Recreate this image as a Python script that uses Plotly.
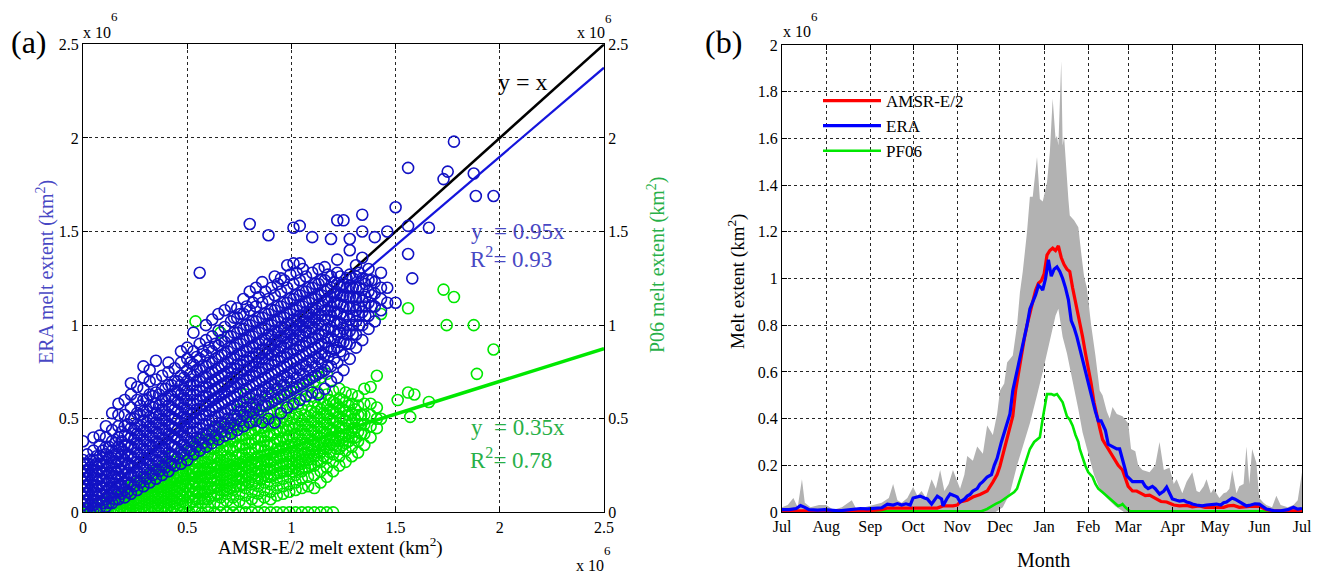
import plotly.graph_objects as go

FONT = "Liberation Serif"
W, H = 1327, 575
OFF = 8            # the page body margin that the browser adds around the figure
FW, FH = W - OFF, H - OFF

# ---------------- Panel (a) data (units of 10^6 km^2) ----------------
ERA_SLOPE = 0.95
PF06_SLOPE = 0.35
FIT_X = [0.0, 2.5]

# ERA vs AMSR-E/2 : (AMSR-E/2 value, [ERA values]) read column by column
era_columns = [
    (0.00, [0.00, 0.04, 0.08, 0.12, 0.16, 0.20, 0.24, 0.28, 0.38]),
    (0.02, [0.02, 0.06, 0.10, 0.14, 0.18, 0.22, 0.26, 0.31]),
    (0.05, [0.00, 0.04, 0.08, 0.12, 0.16, 0.20, 0.24, 0.28, 0.33, 0.40]),
    (0.08, [0.02, 0.06, 0.10, 0.14, 0.18, 0.22, 0.26, 0.30, 0.36, 0.41]),
    (0.11, [0.03, 0.07, 0.11, 0.15, 0.19, 0.23, 0.27, 0.31, 0.35, 0.40, 0.46]),
    (0.14, [0.05, 0.09, 0.13, 0.17, 0.21, 0.25, 0.29, 0.33, 0.38, 0.44, 0.53]),
    (0.17, [0.07, 0.11, 0.15, 0.19, 0.23, 0.27, 0.31, 0.35, 0.40, 0.46, 0.52, 0.58]),
    (0.20, [0.08, 0.12, 0.16, 0.20, 0.24, 0.28, 0.32, 0.36, 0.41, 0.46, 0.52, 0.60]),
    (0.23, [0.10, 0.15, 0.20, 0.25, 0.30, 0.35, 0.40, 0.45, 0.50, 0.56, 0.63, 0.69]),
    (0.26, [0.12, 0.17, 0.22, 0.27, 0.32, 0.37, 0.42, 0.47, 0.53, 0.60, 0.67]),
    (0.29, [0.14, 0.19, 0.24, 0.29, 0.34, 0.39, 0.44, 0.49, 0.54, 0.60, 0.66, 0.72, 0.78]),
    (0.32, [0.16, 0.21, 0.26, 0.31, 0.36, 0.41, 0.46, 0.51, 0.57, 0.63, 0.70, 0.76]),
    (0.35, [0.18, 0.23, 0.28, 0.33, 0.38, 0.43, 0.48, 0.53, 0.58, 0.64, 0.71, 0.81]),
    (0.38, [0.20, 0.25, 0.30, 0.35, 0.40, 0.45, 0.50, 0.55, 0.60, 0.66, 0.73]),
    (0.41, [0.22, 0.27, 0.32, 0.37, 0.42, 0.47, 0.52, 0.57, 0.62, 0.68, 0.75, 0.80]),
    (0.44, [0.25, 0.30, 0.35, 0.40, 0.45, 0.50, 0.55, 0.60, 0.65, 0.70, 0.77]),
    (0.47, [0.26, 0.32, 0.38, 0.43, 0.48, 0.53, 0.58, 0.63, 0.68, 0.73, 0.80, 0.86]),
    (0.50, [0.28, 0.34, 0.40, 0.45, 0.50, 0.55, 0.60, 0.65, 0.70, 0.76, 0.82, 0.88]),
    (0.53, [0.31, 0.37, 0.43, 0.48, 0.53, 0.58, 0.63, 0.68, 0.73, 0.79, 0.86, 0.96]),
    (0.56, [0.33, 0.39, 0.45, 0.50, 0.55, 0.60, 0.65, 0.70, 0.76, 0.82, 0.90, 1.28]),
    (0.59, [0.35, 0.41, 0.47, 0.52, 0.57, 0.62, 0.67, 0.72, 0.78, 0.84, 0.92, 1.00]),
    (0.62, [0.37, 0.43, 0.49, 0.55, 0.60, 0.65, 0.70, 0.75, 0.80, 0.86, 0.94, 1.03]),
    (0.65, [0.39, 0.45, 0.51, 0.57, 0.62, 0.67, 0.72, 0.77, 0.83, 0.89, 0.97, 1.06]),
    (0.68, [0.41, 0.47, 0.53, 0.59, 0.64, 0.69, 0.74, 0.79, 0.85, 0.91, 0.99, 1.08]),
    (0.71, [0.42, 0.48, 0.55, 0.61, 0.67, 0.72, 0.77, 0.82, 0.88, 0.94, 1.02, 1.10]),
    (0.74, [0.44, 0.50, 0.57, 0.63, 0.69, 0.74, 0.79, 0.84, 0.90, 0.96, 1.04, 1.09]),
    (0.77, [0.46, 0.52, 0.59, 0.65, 0.71, 0.76, 0.81, 0.86, 0.92, 0.98, 1.06, 1.14]),
    (0.80, [0.48, 0.54, 0.61, 0.67, 0.73, 0.78, 0.83, 0.88, 0.94, 1.00, 1.08, 1.18, 1.54]),
    (0.83, [0.49, 0.56, 0.63, 0.69, 0.75, 0.80, 0.85, 0.90, 0.96, 1.02, 1.10, 1.20]),
    (0.86, [0.48, 0.57, 0.64, 0.71, 0.77, 0.82, 0.87, 0.92, 0.98, 1.04, 1.12, 1.23]),
    (0.89, [0.50, 0.58, 0.66, 0.73, 0.79, 0.85, 0.90, 0.95, 1.00, 1.06, 1.14, 1.48]),
    (0.92, [0.48, 0.60, 0.68, 0.75, 0.81, 0.87, 0.92, 0.97, 1.02, 1.08, 1.16, 1.26]),
    (0.95, [0.53, 0.62, 0.70, 0.77, 0.83, 0.89, 0.94, 0.99, 1.04, 1.10, 1.18, 1.25]),
    (0.98, [0.56, 0.64, 0.72, 0.79, 0.85, 0.91, 0.96, 1.01, 1.06, 1.12, 1.20, 1.32]),
    (1.01, [0.58, 0.66, 0.74, 0.81, 0.87, 0.93, 0.98, 1.03, 1.08, 1.14, 1.22, 1.33, 1.52]),
    (1.04, [0.60, 0.68, 0.76, 0.83, 0.89, 0.95, 1.00, 1.05, 1.10, 1.16, 1.24, 1.33, 1.53]),
    (1.07, [0.62, 0.70, 0.78, 0.85, 0.91, 0.97, 1.02, 1.07, 1.12, 1.18, 1.26]),
    (1.10, [0.64, 0.72, 0.80, 0.87, 0.93, 0.99, 1.04, 1.09, 1.14, 1.20, 1.28, 1.47]),
    (1.13, [0.63, 0.74, 0.82, 0.89, 0.95, 1.01, 1.06, 1.11, 1.16, 1.22, 1.30]),
    (1.16, [0.66, 0.76, 0.84, 0.91, 0.97, 1.03, 1.08, 1.13, 1.18, 1.24, 1.31]),
    (1.19, [0.70, 0.78, 0.86, 0.93, 0.99, 1.05, 1.10, 1.15, 1.20, 1.26, 1.46]),
    (1.22, [0.72, 0.80, 0.88, 0.95, 1.01, 1.07, 1.12, 1.17, 1.22, 1.28, 1.35, 1.56]),
    (1.25, [0.76, 0.84, 0.91, 0.98, 1.04, 1.10, 1.16, 1.22, 1.56]),
    (1.28, [0.82, 0.90, 0.97, 1.03, 1.09, 1.15, 1.21, 1.27, 1.40, 1.46]),
    (1.31, [0.88, 0.95, 1.02, 1.08, 1.14, 1.20, 1.26, 1.32]),
    (1.34, [0.92, 1.00, 1.07, 1.13, 1.19, 1.25, 1.36, 1.50, 1.59]),
    (1.37, [0.98, 1.05, 1.12, 1.18, 1.24, 1.30]),
    (1.40, [1.02, 1.10, 1.17, 1.23, 1.47]),
    (1.43, [1.08, 1.14, 1.20, 1.28]),
    (1.46, [1.12, 1.20, 1.50]),
    (1.50, [1.12, 1.63]),
    (1.56, [1.38, 1.53, 1.84]),
    (1.58, [1.25]),
    (1.66, [1.52]),
    (1.73, [1.78]),
    (1.75, [1.82]),
    (1.78, [1.98]),
    (1.875, [1.81]),
    (1.885, [1.69]),
    (1.97, [1.69]),
]

# the densest part of the ERA cloud, read between the columns above
era_dense_columns = [
    (0.01, [0.02, 0.06, 0.10, 0.14, 0.18, 0.22, 0.26]),
    (0.035, [0.00, 0.04, 0.08, 0.12, 0.16, 0.20, 0.24, 0.28]),
    (0.065, [0.02, 0.06, 0.10, 0.14, 0.18, 0.22, 0.26, 0.30]),
    (0.095, [0.05, 0.09, 0.13, 0.17, 0.21, 0.25, 0.29, 0.33]),
    (0.125, [0.05, 0.09, 0.13, 0.17, 0.21, 0.25, 0.29, 0.35]),
    (0.155, [0.07, 0.11, 0.15, 0.19, 0.23, 0.27, 0.31, 0.37]),
    (0.185, [0.10, 0.14, 0.18, 0.22, 0.26, 0.30, 0.34, 0.38, 0.43]),
    (0.215, [0.11, 0.16, 0.21, 0.26, 0.31, 0.36, 0.41, 0.47]),
    (0.245, [0.14, 0.19, 0.24, 0.29, 0.34, 0.39, 0.44, 0.50]),
    (0.275, [0.16, 0.21, 0.26, 0.31, 0.36, 0.41, 0.46, 0.52, 0.57]),
    (0.305, [0.18, 0.23, 0.28, 0.33, 0.38, 0.43, 0.48, 0.54, 0.60]),
    (0.335, [0.20, 0.25, 0.30, 0.35, 0.40, 0.45, 0.50, 0.56, 0.62]),
    (0.365, [0.22, 0.27, 0.32, 0.37, 0.42, 0.47, 0.52, 0.57, 0.63]),
    (0.395, [0.24, 0.29, 0.34, 0.39, 0.44, 0.49, 0.54, 0.60, 0.66]),
    (0.425, [0.26, 0.31, 0.36, 0.41, 0.46, 0.51, 0.56, 0.62, 0.68]),
    (0.455, [0.29, 0.34, 0.39, 0.44, 0.49, 0.54, 0.59, 0.64, 0.70]),
    (0.485, [0.31, 0.36, 0.41, 0.46, 0.51, 0.56, 0.61, 0.66, 0.72]),
    (0.515, [0.33, 0.38, 0.43, 0.48, 0.53, 0.58, 0.63, 0.68, 0.74, 0.80]),
    (0.545, [0.35, 0.40, 0.45, 0.50, 0.55, 0.60, 0.65, 0.70, 0.76, 0.83]),
    (0.575, [0.37, 0.42, 0.47, 0.52, 0.57, 0.62, 0.67, 0.72, 0.78, 0.86]),
    (0.605, [0.39, 0.44, 0.49, 0.54, 0.59, 0.64, 0.69, 0.74, 0.80, 0.88]),
    (0.635, [0.41, 0.46, 0.51, 0.56, 0.61, 0.66, 0.71, 0.76, 0.82, 0.90]),
    (0.665, [0.43, 0.48, 0.53, 0.58, 0.63, 0.68, 0.73, 0.78, 0.84, 0.92]),
    (0.695, [0.45, 0.50, 0.55, 0.60, 0.65, 0.70, 0.75, 0.80, 0.86, 0.94]),
    (0.725, [0.47, 0.52, 0.57, 0.62, 0.67, 0.72, 0.77, 0.82, 0.88, 0.96, 1.04]),
    (0.755, [0.49, 0.54, 0.59, 0.64, 0.69, 0.74, 0.79, 0.84, 0.90, 0.98, 1.06]),
    (0.785, [0.51, 0.56, 0.61, 0.66, 0.71, 0.76, 0.81, 0.86, 0.92, 1.00, 1.10]),
    (0.815, [0.53, 0.58, 0.63, 0.68, 0.73, 0.78, 0.83, 0.88, 0.94, 1.02, 1.12]),
    (0.845, [0.55, 0.60, 0.65, 0.70, 0.75, 0.80, 0.85, 0.90, 0.96, 1.04, 1.15]),
    (0.875, [0.57, 0.62, 0.67, 0.72, 0.77, 0.82, 0.87, 0.92, 0.98, 1.06, 1.18]),
    (0.905, [0.59, 0.64, 0.69, 0.74, 0.79, 0.84, 0.89, 0.94, 1.00, 1.08, 1.20]),
    (0.935, [0.61, 0.66, 0.71, 0.76, 0.81, 0.86, 0.91, 0.96, 1.02, 1.10, 1.22]),
    (0.965, [0.63, 0.68, 0.73, 0.78, 0.83, 0.88, 0.93, 0.98, 1.04, 1.12, 1.24]),
    (0.995, [0.65, 0.70, 0.75, 0.80, 0.85, 0.90, 0.95, 1.00, 1.06, 1.14, 1.27]),
    (1.025, [0.67, 0.72, 0.77, 0.82, 0.87, 0.92, 0.97, 1.02, 1.08, 1.16, 1.28]),
    (1.055, [0.69, 0.74, 0.79, 0.84, 0.89, 0.94, 0.99, 1.04, 1.10, 1.18, 1.30]),
    (1.085, [0.71, 0.76, 0.81, 0.86, 0.91, 0.96, 1.01, 1.06, 1.12, 1.20]),
    (1.115, [0.73, 0.78, 0.83, 0.88, 0.93, 0.98, 1.03, 1.08, 1.14, 1.22]),
    (1.145, [0.75, 0.80, 0.85, 0.90, 0.95, 1.00, 1.05, 1.10, 1.16, 1.24]),
    (1.175, [0.78, 0.83, 0.88, 0.93, 0.98, 1.03, 1.08, 1.13, 1.19, 1.27]),
    (1.205, [0.82, 0.87, 0.92, 0.97, 1.02, 1.07, 1.12, 1.17, 1.23]),
    (1.235, [0.86, 0.91, 0.96, 1.01, 1.06, 1.11, 1.16, 1.21, 1.26]),
    (1.265, [0.90, 0.95, 1.00, 1.05, 1.10, 1.15, 1.20, 1.25]),
    (1.295, [0.95, 1.00, 1.05, 1.10, 1.15, 1.20, 1.25]),
    (1.325, [1.00, 1.05, 1.10, 1.15, 1.20, 1.28]),
    (1.355, [1.05, 1.10, 1.15, 1.22]),
    (1.385, [1.10, 1.16, 1.24]),
]

# PF06 vs AMSR-E/2 : (AMSR-E/2 value, [PF06 values])
pf06_columns = [
    (0.03, [0.00, 0.02]),
    (0.06, [0.00, 0.03]),
    (0.09, [0.00, 0.02, 0.05]),
    (0.12, [0.00, 0.03, 0.06]),
    (0.15, [0.00, 0.02, 0.05, 0.08]),
    (0.18, [0.00, 0.03, 0.06, 0.09]),
    (0.21, [0.00, 0.02, 0.05, 0.08, 0.11]),
    (0.24, [0.00, 0.03, 0.06, 0.09, 0.12, 0.15]),
    (0.27, [0.00, 0.02, 0.05, 0.08, 0.11, 0.14, 0.17]),
    (0.30, [0.01, 0.04, 0.07, 0.10, 0.13, 0.16, 0.19]),
    (0.33, [0.00, 0.03, 0.06, 0.09, 0.12, 0.15, 0.18, 0.22]),
    (0.36, [0.01, 0.04, 0.07, 0.10, 0.13, 0.16, 0.19, 0.23, 0.27]),
    (0.39, [0.00, 0.03, 0.06, 0.09, 0.12, 0.15, 0.18, 0.21, 0.25]),
    (0.42, [0.00, 0.04, 0.07, 0.10, 0.13, 0.16, 0.19, 0.22, 0.26, 0.30]),
    (0.45, [0.02, 0.05, 0.08, 0.11, 0.14, 0.17, 0.21, 0.25, 0.29]),
    (0.48, [0.00, 0.03, 0.06, 0.09, 0.12, 0.15, 0.18, 0.22, 0.26, 0.31, 0.36]),
    (0.51, [0.00, 0.04, 0.08, 0.12, 0.16, 0.20, 0.24, 0.28, 0.33]),
    (0.54, [0.00, 0.03, 0.07, 0.11, 0.15, 0.19, 0.23, 0.27, 0.31, 0.36, 1.02]),
    (0.57, [0.00, 0.05, 0.09, 0.13, 0.17, 0.21, 0.25, 0.29, 0.34, 0.39]),
    (0.60, [0.00, 0.03, 0.07, 0.11, 0.15, 0.19, 0.23, 0.27, 0.31, 0.36, 0.42]),
    (0.63, [0.00, 0.05, 0.09, 0.13, 0.17, 0.21, 0.25, 0.29, 0.34, 0.39, 0.45]),
    (0.66, [0.00, 0.04, 0.08, 0.12, 0.16, 0.20, 0.24, 0.28, 0.32, 0.37, 0.42, 0.96]),
    (0.69, [0.00, 0.06, 0.10, 0.14, 0.18, 0.22, 0.26, 0.30, 0.35, 0.40, 0.46]),
    (0.72, [0.00, 0.04, 0.08, 0.12, 0.16, 0.20, 0.24, 0.28, 0.33, 0.38, 0.44, 0.50]),
    (0.75, [0.00, 0.06, 0.10, 0.14, 0.18, 0.22, 0.26, 0.31, 0.36, 0.41, 0.47, 0.55]),
    (0.78, [0.00, 0.05, 0.09, 0.13, 0.17, 0.21, 0.25, 0.29, 0.34, 0.39, 0.45, 0.52, 0.63]),
    (0.81, [0.00, 0.07, 0.11, 0.15, 0.19, 0.23, 0.27, 0.32, 0.37, 0.42, 0.48, 0.56]),
    (0.84, [0.00, 0.06, 0.10, 0.14, 0.18, 0.22, 0.26, 0.30, 0.35, 0.40, 0.46, 0.53, 0.60]),
    (0.87, [0.00, 0.08, 0.12, 0.16, 0.20, 0.24, 0.28, 0.33, 0.38, 0.43, 0.49, 0.57]),
    (0.90, [0.00, 0.07, 0.11, 0.15, 0.19, 0.23, 0.27, 0.31, 0.36, 0.41, 0.47, 0.54, 0.62]),
    (0.93, [0.00, 0.09, 0.13, 0.17, 0.21, 0.25, 0.29, 0.34, 0.39, 0.44, 0.50, 0.58, 0.66]),
    (0.96, [0.00, 0.10, 0.14, 0.18, 0.22, 0.26, 0.30, 0.35, 0.40, 0.45, 0.51, 0.60, 0.68]),
    (0.99, [0.00, 0.11, 0.15, 0.19, 0.23, 0.27, 0.31, 0.36, 0.41, 0.46, 0.52, 0.62]),
    (1.02, [0.00, 0.12, 0.16, 0.20, 0.24, 0.28, 0.32, 0.37, 0.42, 0.47, 0.53, 0.64]),
    (1.05, [0.00, 0.13, 0.18, 0.22, 0.26, 0.30, 0.34, 0.39, 0.44, 0.49, 0.55, 0.66]),
    (1.08, [0.00, 0.14, 0.19, 0.24, 0.28, 0.32, 0.36, 0.41, 0.46, 0.51, 0.57, 0.68]),
    (1.11, [0.00, 0.13, 0.20, 0.25, 0.30, 0.34, 0.38, 0.43, 0.48, 0.53, 0.59, 0.70]),
    (1.14, [0.00, 0.16, 0.22, 0.27, 0.32, 0.36, 0.40, 0.45, 0.50, 0.55, 0.61, 0.72]),
    (1.17, [0.00, 0.19, 0.24, 0.29, 0.34, 0.38, 0.42, 0.47, 0.52, 0.57, 0.63, 0.74]),
    (1.20, [0.00, 0.22, 0.27, 0.31, 0.36, 0.40, 0.44, 0.49, 0.54, 0.59, 0.65]),
    (1.23, [0.25, 0.30, 0.34, 0.38, 0.42, 0.46, 0.51, 0.56, 0.61, 0.66]),
    (1.26, [0.27, 0.33, 0.37, 0.41, 0.45, 0.49, 0.54, 0.59, 0.64]),
    (1.29, [0.30, 0.35, 0.40, 0.44, 0.48, 0.53, 0.58, 0.63]),
    (1.32, [0.32, 0.38, 0.43, 0.47, 0.52, 0.57, 0.62]),
    (1.35, [0.36, 0.42, 0.47, 0.52, 0.58, 0.66]),
    (1.38, [0.40, 0.46, 0.52, 0.58, 0.67]),
    (1.41, [0.45, 0.50, 0.56, 0.73]),
    (1.43, [0.50, 1.06]),
    (1.51, [0.60]),
    (1.56, [0.64, 1.09]),
    (1.57, [0.51]),
    (1.59, [0.63]),
    (1.66, [0.59]),
    (1.73, [1.19]),
    (1.745, [1.00]),
    (1.78, [1.15]),
    (1.875, [1.00]),
    (1.89, [0.74]),
    (1.97, [0.87]),
]

# densest part of the PF06 cloud
pf06_dense_columns = [
    (0.165, [0.01, 0.04, 0.07]),
    (0.195, [0.01, 0.04, 0.07, 0.10]),
    (0.225, [0.01, 0.04, 0.07, 0.10, 0.13]),
    (0.255, [0.01, 0.04, 0.07, 0.10, 0.13]),
    (0.285, [0.03, 0.06, 0.09, 0.12, 0.15]),
    (0.315, [0.02, 0.05, 0.08, 0.11, 0.14, 0.17]),
    (0.345, [0.02, 0.05, 0.08, 0.11, 0.14, 0.17, 0.20]),
    (0.375, [0.02, 0.05, 0.08, 0.11, 0.14, 0.17, 0.21]),
    (0.405, [0.02, 0.05, 0.08, 0.11, 0.14, 0.17, 0.20, 0.23]),
    (0.435, [0.03, 0.06, 0.09, 0.12, 0.15, 0.19, 0.23, 0.27]),
    (0.465, [0.04, 0.07, 0.10, 0.13, 0.16, 0.20, 0.24, 0.28]),
    (0.495, [0.05, 0.10, 0.14, 0.18, 0.22, 0.26, 0.30]),
    (0.525, [0.06, 0.10, 0.14, 0.18, 0.22, 0.26, 0.30, 0.34]),
    (0.555, [0.07, 0.11, 0.15, 0.19, 0.23, 0.27, 0.32, 0.37]),
    (0.585, [0.07, 0.11, 0.15, 0.19, 0.23, 0.27, 0.32, 0.37]),
    (0.615, [0.09, 0.13, 0.17, 0.21, 0.25, 0.29, 0.34, 0.39]),
    (0.645, [0.10, 0.14, 0.18, 0.22, 0.26, 0.30, 0.35, 0.40]),
    (0.675, [0.12, 0.16, 0.20, 0.24, 0.28, 0.33, 0.38, 0.43]),
    (0.705, [0.13, 0.17, 0.21, 0.25, 0.29, 0.34, 0.39, 0.45]),
    (0.735, [0.14, 0.18, 0.22, 0.26, 0.30, 0.35, 0.40, 0.46]),
    (0.765, [0.15, 0.19, 0.23, 0.27, 0.31, 0.36, 0.41, 0.48]),
    (0.795, [0.16, 0.20, 0.24, 0.28, 0.32, 0.37, 0.42, 0.49]),
    (0.825, [0.17, 0.21, 0.25, 0.29, 0.34, 0.39, 0.44, 0.51]),
    (0.855, [0.18, 0.22, 0.26, 0.30, 0.35, 0.40, 0.45, 0.52]),
    (0.885, [0.19, 0.23, 0.27, 0.31, 0.36, 0.41, 0.46, 0.53]),
    (0.915, [0.20, 0.24, 0.28, 0.32, 0.37, 0.42, 0.47, 0.54]),
    (0.945, [0.21, 0.25, 0.29, 0.33, 0.38, 0.43, 0.48, 0.55]),
    (0.975, [0.22, 0.26, 0.30, 0.34, 0.39, 0.44, 0.49, 0.56]),
    (1.005, [0.22, 0.26, 0.30, 0.35, 0.40, 0.45, 0.50, 0.57]),
    (1.035, [0.23, 0.27, 0.31, 0.36, 0.41, 0.46, 0.51, 0.58]),
    (1.065, [0.24, 0.28, 0.32, 0.37, 0.42, 0.47, 0.52, 0.60]),
    (1.095, [0.26, 0.30, 0.34, 0.39, 0.44, 0.49, 0.54, 0.62]),
    (1.125, [0.28, 0.32, 0.36, 0.41, 0.46, 0.51, 0.56, 0.64]),
    (1.155, [0.30, 0.34, 0.38, 0.43, 0.48, 0.53, 0.58]),
    (1.185, [0.32, 0.36, 0.40, 0.45, 0.50, 0.55, 0.60]),
    (1.215, [0.34, 0.38, 0.43, 0.48, 0.53, 0.58]),
    (1.245, [0.36, 0.40, 0.45, 0.50, 0.55, 0.60]),
    (1.275, [0.38, 0.42, 0.47, 0.52, 0.57]),
    (1.305, [0.40, 0.45, 0.50, 0.55]),
    (1.335, [0.42, 0.47, 0.52]),
]

# ---------------- Panel (b) data: day index from 1 July ----------------
month_days = [0, 31, 62, 92, 123, 153, 184, 215, 243, 274, 304, 335, 365]
month_labels = ["Jul", "Aug", "Sep", "Oct", "Nov", "Dec", "Jan",
                "Feb", "Mar", "Apr", "May", "Jun", "Jul"]

amsr_days = [0, 30, 60, 70, 74, 90, 109, 113, 120, 123, 125, 130, 134, 139, 144, 148, 151,
             153, 156, 159, 162, 164, 166, 168, 170, 172, 174, 176, 178, 180, 182, 184,
             186, 188, 190, 192, 194, 196, 198, 200, 202, 204, 206, 209, 211, 213, 215,
             217, 219, 221, 223, 225, 228, 230, 233, 236, 239, 241, 243, 246, 249, 252,
             255, 258, 262, 266, 270, 275, 279, 284, 288, 293, 297, 300, 305, 310, 313,
             317, 321, 325, 330, 335, 338, 340, 345, 365]
amsr_vals = [0.005, 0.005, 0.005, 0.01, 0.017, 0.017, 0.017, 0.026, 0.026, 0.03, 0.043,
             0.05, 0.064, 0.075, 0.09, 0.128, 0.16, 0.197, 0.27, 0.34, 0.41, 0.52, 0.6,
             0.68, 0.74, 0.8, 0.85, 0.9, 0.95, 0.98, 0.99, 1.02, 1.1, 1.12, 1.13, 1.12,
             1.14, 1.09, 1.06, 1.04, 1.03, 0.96, 0.9, 0.82, 0.75, 0.68, 0.62, 0.55, 0.47,
             0.41, 0.36, 0.31, 0.28, 0.26, 0.23, 0.2, 0.18, 0.14, 0.11, 0.09, 0.09, 0.08,
             0.07, 0.072, 0.06, 0.045, 0.043, 0.03, 0.026, 0.028, 0.022, 0.026, 0.02, 0.02,
             0.022, 0.02, 0.026, 0.028, 0.02, 0.022, 0.025, 0.024, 0.015, 0.01, 0.005, 0.005]

era_days = [0, 5, 10, 13, 16, 19, 25, 30, 40, 50, 55, 60, 66, 70, 74, 78, 81, 84, 87, 90,
            92, 95, 97, 100, 102, 105, 107, 109, 112, 113, 116, 118, 121, 123, 125, 128,
            130, 132, 134, 137, 139, 141, 144, 147, 149, 151, 154, 158, 160, 162, 165,
            167, 170, 172, 174, 176, 178, 180, 182, 183, 185, 187, 189, 191, 193, 195,
            197, 199, 201, 203, 205, 207, 209, 211, 214, 216, 218, 220, 222, 224, 227,
            229, 232, 235, 237, 239, 241, 242, 244, 246, 250, 253, 255, 257, 260, 262,
            265, 268, 270, 272, 274, 277, 279, 282, 284, 286, 288, 291, 295, 298, 302,
            305, 308, 310, 312, 314, 316, 318, 321, 324, 326, 329, 332, 335, 337, 340,
            345, 350, 355, 359, 362, 365]
era_vals = [0.01, 0.01, 0.015, 0.028, 0.02, 0.01, 0.008, 0.01, 0.005, 0.012, 0.015, 0.013,
            0.015, 0.018, 0.034, 0.03, 0.036, 0.03, 0.035, 0.03, 0.06, 0.065, 0.068, 0.06,
            0.056, 0.034, 0.05, 0.068, 0.056, 0.026, 0.06, 0.077, 0.07, 0.064, 0.043,
            0.055, 0.068, 0.075, 0.09, 0.1, 0.12, 0.13, 0.15, 0.16, 0.2, 0.23, 0.3, 0.38,
            0.42, 0.52, 0.6, 0.655, 0.74, 0.8, 0.87, 0.9, 0.93, 0.97, 0.96, 0.95, 1.0,
            1.08, 1.01, 1.04, 1.05, 1.03, 1.0, 0.96, 0.91, 0.82, 0.79, 0.75, 0.7, 0.655,
            0.58, 0.53, 0.48, 0.43, 0.39, 0.39, 0.35, 0.29, 0.28, 0.27, 0.27, 0.23, 0.18,
            0.155, 0.14, 0.13, 0.13, 0.13, 0.11, 0.1, 0.11, 0.1, 0.077, 0.09, 0.107, 0.08,
            0.056, 0.05, 0.047, 0.05, 0.043, 0.04, 0.034, 0.03, 0.026, 0.03, 0.032, 0.034,
            0.03, 0.04, 0.043, 0.05, 0.06, 0.055, 0.043, 0.03, 0.026, 0.03, 0.035, 0.034,
            0.025, 0.013, 0.006, 0.005, 0.01, 0.02, 0.012, 0.015]

pf06_days = [0, 140, 144, 147, 150, 153, 156, 160, 163, 165, 167, 169, 171, 174, 177, 179,
             181, 183, 185, 186, 189, 191, 193, 195, 197, 199, 200, 202, 204, 206, 208,
             209, 211, 213, 215, 218, 220, 222, 225, 228, 231, 234, 236, 238, 239, 241,
             244, 365]
pf06_vals = [0.003, 0.003, 0.013, 0.025, 0.035, 0.043, 0.055, 0.07, 0.085, 0.1, 0.14, 0.18,
             0.21, 0.27, 0.3, 0.31, 0.32, 0.4, 0.48, 0.505, 0.505, 0.5, 0.505, 0.49, 0.47,
             0.43, 0.41, 0.395, 0.37, 0.33, 0.3, 0.27, 0.23, 0.197, 0.17, 0.15, 0.12, 0.1,
             0.085, 0.07, 0.055, 0.04, 0.026, 0.03, 0.034, 0.02, 0.004, 0.003]

# grey envelope (range of the individual estimates)
env_up_days = [0, 4, 8, 11, 14, 16, 20, 26, 31, 36, 42, 49, 52, 58, 64, 70, 75, 78, 81, 84,
               88, 92, 95, 98, 101, 105, 108, 111, 114, 117, 120, 123, 125, 128, 130, 134,
               137, 141, 144, 148, 151, 153, 156, 158, 162, 165, 167, 169, 172, 174, 176,
               179, 181, 183, 186, 188, 190, 192, 193, 194, 196, 197, 198, 201, 202, 205,
               208, 210, 212, 214, 217, 220, 223, 225, 228, 230, 232, 235, 239, 243, 245,
               248, 250, 253, 258, 262, 265, 268, 272, 275, 277, 281, 284, 288, 291, 293,
               296, 298, 301, 303, 307, 310, 312, 314, 316, 319, 321, 324, 326, 328, 330,
               333, 335, 338, 340, 344, 347, 350, 355, 359, 362, 365]
env_up_vals = [0.02, 0.03, 0.06, 0.02, 0.14, 0.04, 0.02, 0.03, 0.03, 0.01, 0.02, 0.05, 0.015,
               0.02, 0.03, 0.04, 0.06, 0.12, 0.05, 0.04, 0.06, 0.107, 0.07, 0.09, 0.06, 0.14,
               0.1, 0.18, 0.09, 0.12, 0.18, 0.13, 0.1, 0.16, 0.24, 0.22, 0.28, 0.25, 0.37,
               0.33, 0.42, 0.52, 0.55, 0.64, 0.67, 0.8, 0.94, 1.03, 1.2, 1.35, 1.35, 1.52,
               1.34, 1.33, 1.41, 1.54, 1.77, 1.6, 1.61, 1.57, 1.93, 1.57, 1.61, 1.34, 1.27,
               1.25, 1.22, 1.11, 1.01, 0.96, 0.8, 0.67, 0.52, 0.5, 0.43, 0.4, 0.45, 0.42,
               0.41, 0.38, 0.27, 0.26, 0.2, 0.18, 0.17, 0.2, 0.3, 0.18, 0.19, 0.12, 0.14,
               0.08, 0.13, 0.17, 0.09, 0.085, 0.11, 0.14, 0.08, 0.1, 0.06, 0.08, 0.085, 0.1,
               0.18, 0.08, 0.11, 0.12, 0.28, 0.12, 0.27, 0.21, 0.06, 0.04, 0.03, 0.02, 0.07,
               0.03, 0.02, 0.03, 0.05, 0.17]
env_lo_days = [0, 150, 155, 160, 165, 170, 174, 179, 183, 186, 189, 192, 194, 197, 200, 204,
               208, 211, 215, 219, 223, 228, 234, 240, 365]
env_lo_vals = [0.0, 0.0, 0.02, 0.08, 0.2, 0.3, 0.38, 0.5, 0.6, 0.67, 0.76, 0.84, 0.87, 0.75,
               0.68, 0.56, 0.44, 0.34, 0.25, 0.16, 0.1, 0.06, 0.025, 0.0, 0.0]

# ---------------- styling ----------------
ERA_BLUE = "rgb(18,18,196)"
PF_GREEN = "rgb(0,232,0)"
TXT_BLUE = "rgb(72,72,196)"
TXT_GREEN = "rgb(40,176,72)"
GRID = dict(showgrid=True, gridcolor="rgba(0,0,0,0.85)", griddash="dot", gridwidth=1)
TICKF = dict(family=FONT, size=16, color="black")


def px_x(p):
    """screen pixel column -> paper fraction"""
    return (p - OFF) / FW


def px_y(p):
    """screen pixel row -> paper fraction"""
    return 1 - (p - OFF) / FH


def flatten(*column_sets):
    xs, ys = [], []
    for cols in column_sets:
        for c, vals in cols:
            for v in vals:
                xs.append(c)
                ys.append(v)
    return xs, ys


fig = go.Figure()

# fitted / reference lines (drawn under the scatter, as in the original)
fig.add_trace(go.Scatter(x=FIT_X, y=FIT_X, mode="lines", line=dict(color="black", width=2.5),
                         xaxis="x", yaxis="y", showlegend=False, hoverinfo="skip"))
fig.add_trace(go.Scatter(x=FIT_X, y=[ERA_SLOPE * v for v in FIT_X], mode="lines",
                         line=dict(color="rgb(20,20,220)", width=2.2),
                         xaxis="x", yaxis="y", showlegend=False, hoverinfo="skip"))
fig.add_trace(go.Scatter(x=FIT_X, y=[PF06_SLOPE * v for v in FIT_X], mode="lines",
                         line=dict(color=PF_GREEN, width=3.5),
                         xaxis="x", yaxis="y", showlegend=False, hoverinfo="skip"))

pf_x, pf_y = flatten(pf06_columns, pf06_dense_columns)
era_x, era_y = flatten(era_columns, era_dense_columns)

fig.add_trace(go.Scatter(x=pf_x, y=pf_y, mode="markers",
                         marker=dict(symbol="circle-open", size=11, color=PF_GREEN,
                                     line=dict(width=1.6, color=PF_GREEN)),
                         xaxis="x", yaxis="y", showlegend=False))
fig.add_trace(go.Scatter(x=era_x, y=era_y, mode="markers",
                         marker=dict(symbol="circle-open", size=11, color=ERA_BLUE,
                                     line=dict(width=1.6, color=ERA_BLUE)),
                         xaxis="x", yaxis="y", showlegend=False))
# right-hand axis (PF06 scale) – carries an invisible copy of the PF06 fit
fig.add_trace(go.Scatter(x=FIT_X, y=[PF06_SLOPE * v for v in FIT_X], mode="lines",
                         line=dict(color=PF_GREEN, width=0.01), opacity=0,
                         xaxis="x", yaxis="y2", showlegend=False, hoverinfo="skip"))

# panel (b)
band_x = env_up_days + env_lo_days[::-1]
band_y = env_up_vals + env_lo_vals[::-1]
fig.add_trace(go.Scatter(x=band_x, y=band_y, mode="lines", fill="toself",
                         fillcolor="rgb(178,178,178)", line=dict(width=0, color="rgb(178,178,178)"),
                         xaxis="x2", yaxis="y3", showlegend=False, hoverinfo="skip"))
fig.add_trace(go.Scatter(x=pf06_days, y=pf06_vals, mode="lines", name="PF06",
                         line=dict(color=PF_GREEN, width=2.6), legendrank=3,
                         legendgroup="c", xaxis="x2", yaxis="y3"))
fig.add_trace(go.Scatter(x=amsr_days, y=amsr_vals, mode="lines", name="AMSR-E/2",
                         line=dict(color="rgb(255,0,0)", width=3.2), legendrank=1,
                         legendgroup="a", xaxis="x2", yaxis="y3"))
fig.add_trace(go.Scatter(x=era_days, y=era_vals, mode="lines", name="ERA",
                         line=dict(color="rgb(0,0,255)", width=3.2), legendrank=2,
                         legendgroup="b", xaxis="x2", yaxis="y3"))

ax_common = dict(showline=True, linecolor="black", linewidth=1, ticks="inside", ticklen=5,
                 tickcolor="black", zeroline=False, tickfont=TICKF, automargin=False, **GRID)

a_ticks = [0, 0.5, 1, 1.5, 2, 2.5]
a_text = ["0", "0.5", "1", "1.5", "2", "2.5"]
b_ticks = [0, 0.2, 0.4, 0.6, 0.8, 1.0, 1.2, 1.4, 1.6, 1.8, 2.0]
b_text = ["0", "0.2", "0.4", "0.6", "0.8", "1", "1.2", "1.4", "1.6", "1.8", "2"]

fig.update_layout(
    width=FW, height=FH, margin=dict(l=0, r=0, t=0, b=0, autoexpand=False),
    paper_bgcolor="white", plot_bgcolor="white",
    font=dict(family=FONT, size=16, color="black"),
    xaxis=dict(domain=[px_x(83), px_x(604)], range=[0, 2.5], tickvals=a_ticks, ticktext=a_text,
               anchor="y", mirror="ticks", **ax_common),
    yaxis=dict(domain=[px_y(512.4), px_y(44.3)], range=[0, 2.5], tickvals=a_ticks,
               ticktext=a_text, anchor="x", **ax_common),
    yaxis2=dict(range=[0, 2.5], tickvals=a_ticks, ticktext=a_text, overlaying="y",
                side="right", anchor="x", showline=True, linecolor="black", linewidth=1,
                ticks="inside", ticklen=5, tickcolor="black", zeroline=False,
                tickfont=TICKF, showgrid=False, automargin=False),
    xaxis2=dict(domain=[px_x(782), px_x(1302)], range=[0, 365], tickvals=month_days,
                ticktext=month_labels, anchor="y3", mirror="ticks", **ax_common),
    yaxis3=dict(domain=[px_y(512), px_y(45)], range=[0, 2.0], tickvals=b_ticks,
                ticktext=b_text, anchor="x2", mirror="ticks", **ax_common),
    legend=dict(x=px_x(818), y=px_y(83), xanchor="left", yanchor="top",
                bgcolor="rgba(0,0,0,0)", borderwidth=0, traceorder="grouped",
                tracegroupgap=0, itemwidth=58,
                font=dict(family=FONT, size=17, color="black")),
)

ann = []


def add_text(text, x, y, size, color="black", xanchor="center", yanchor="middle", angle=0,
             xref="paper", yref="paper"):
    ann.append(dict(text=text, x=x, y=y, xref=xref, yref=yref, showarrow=False,
                    xanchor=xanchor, yanchor=yanchor, textangle=angle,
                    font=dict(family=FONT, size=size, color=color)))


add_text("(a)", px_x(29), px_y(42), 32)
add_text("(b)", px_x(723), px_y(42), 32)
# exponent labels
for bx, by in [(97, 32), (591, 33), (590, 565), (797, 31)]:
    add_text("x 10", px_x(bx), px_y(by), 16)
    add_text("6", px_x(bx + 17), px_y(by - 15), 13)

# axis titles
add_text("ERA melt extent (km<sup>2</sup>)", px_x(45), px_y(272), 20, TXT_BLUE, angle=-90)
add_text("P06 melt extent (km<sup>2</sup>)", px_x(657), px_y(265), 20, TXT_GREEN, angle=-90)
add_text("AMSR-E/2 melt extent (km<sup>2</sup>)", px_x(330), px_y(546), 19)
add_text("Melt extent (km<sup>2</sup>)", px_x(736), px_y(282), 19, angle=-90)
add_text("Month", px_x(1043), px_y(560), 20)

# regression annotations (data coordinates of panel a)
add_text("y = x", 2.11, 2.30, 24, xref="x", yref="y")
add_text("y  = 0.95x", 1.85, 1.50, 23, TXT_BLUE, xanchor="left", xref="x", yref="y")
add_text("R<sup>2</sup>= 0.93", 1.845, 1.36, 23, TXT_BLUE, xanchor="left", xref="x", yref="y")
add_text("y  = 0.35x", 1.85, 0.455, 23, TXT_GREEN, xanchor="left", xref="x", yref="y")
add_text("R<sup>2</sup>= 0.78", 1.845, 0.29, 23, TXT_GREEN, xanchor="left", xref="x", yref="y")

fig.update_layout(annotations=ann)
fig.write_html("out.html")
